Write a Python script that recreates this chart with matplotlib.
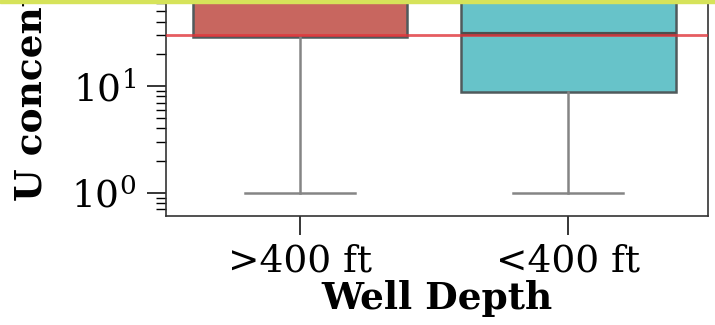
import matplotlib
matplotlib.use("Agg")
import matplotlib.pyplot as plt
from matplotlib.patches import Rectangle

plt.rcParams["font.family"] = "DejaVu Serif"
plt.rcParams["mathtext.fontset"] = "dejavuserif"

# boxplot summaries per depth class (U, ug/L)
depths = [">400 ft", "<400 ft"]
q1 = [29.0, 8.8]
med = [70.0, 31.0]
q3 = [200.0, 120.0]
whis_lo = [1.0, 1.0]
whis_hi = [900.0, 600.0]
box_colors = ["#c8665f", "#67c3c9"]
mcl = 30.0  # drinking water limit

fig = plt.figure(figsize=(7.15, 3.25), dpi=100)
ax = fig.add_axes([0.2322, 0.3354, 0.758, 1.0566])

stats = [dict(label=d, q1=a, med=m, q3=b, whislo=lo, whishi=hi, fliers=[])
         for d, a, m, b, lo, hi in zip(depths, q1, med, q3, whis_lo, whis_hi)]
bp = ax.bxp(stats, positions=range(len(depths)), widths=0.8, capwidths=0.41,
            patch_artist=True, showfliers=False,
            boxprops=dict(edgecolor="#505a5c", linewidth=1.8),
            whiskerprops=dict(color="#858585", linewidth=1.8),
            capprops=dict(color="#858585", linewidth=1.8),
            medianprops=dict(color="#4e4e4e", linewidth=3.0))
for patch, c in zip(bp["boxes"], box_colors):
    patch.set_facecolor(c)

ax.axhline(mcl, color="#e0343a", lw=2.0, alpha=0.8, zorder=5)

ax.set_yscale("log")
ax.set_ylim(0.605, 1000)
ax.set_xlim(-0.5, 1.52)
ax.tick_params(axis="both", which="major", labelsize=27, length=13.5, width=1.1, pad=6)
ax.tick_params(axis="y", which="major", pad=8)
ax.tick_params(axis="y", which="minor", length=7, width=1.0)
for s in ax.spines.values():
    s.set_linewidth(1.2)
    s.set_color("#333333")

ax.set_xlabel("Well Depth", fontsize=27, fontweight="bold", labelpad=1)
ax.set_ylabel("U concentration (\u00b5g/L)", fontsize=27, fontweight="bold", loc="bottom")
ax.yaxis.set_label_coords(-0.214, 0.044)

# highlight strip along the top edge
fig.add_artist(Rectangle((0, 1 - 3 / 325), 1, 3 / 325, transform=fig.transFigure,
                         color="#d6e35a", zorder=10))

fig.savefig("out.png", dpi=100)
